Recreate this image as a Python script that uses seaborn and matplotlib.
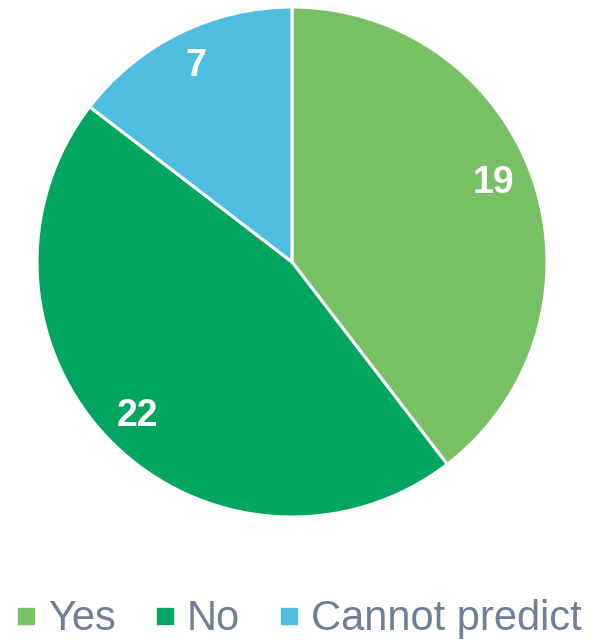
import matplotlib
matplotlib.use("Agg")
import matplotlib.pyplot as plt
from matplotlib.lines import Line2D
import seaborn as sns

categories = ["Yes", "No", "Cannot predict"]
values = [19, 22, 7]
colors = ["#77C063", "#00A65F", "#4FBDE0"]

sns.set_theme(style="white")
plt.rcParams['font.family'] = ['Liberation Sans', 'DejaVu Sans']

fig = plt.figure(figsize=(5.92, 6.40), dpi=100)
ax = fig.add_axes([37/592, 123/640, 510/592, 510/640])
wedges, texts = ax.pie(values, colors=colors, startangle=90, counterclock=False,
                       labels=[str(v) for v in values], labeldistance=0.855,
                       wedgeprops=dict(edgecolor="white", linewidth=2.2),
                       textprops=dict(color="white", fontsize=27, fontweight="bold"))
for t in texts:
    t.set_horizontalalignment("center")
    t.set_verticalalignment("center")
# slight nudge of the first label, as in the reference
x0, y0 = texts[0].get_position()
texts[0].set_position((x0 - 0.02, y0 + 0.035))
ax.set_xlim(-1, 1)
ax.set_ylim(-1, 1)
ax.set_aspect("equal")
ax.axis("off")

handles = [Line2D([0], [0], marker="s", linestyle="none", markersize=11.5,
                  markerfacecolor=c, markeredgecolor=c) for c in colors]
leg = fig.legend(handles, categories, loc="lower center", bbox_to_anchor=(0.505, 0.001),
                 ncol=3, frameon=False, fontsize=30, handlelength=0.45,
                 handletextpad=0.3, columnspacing=0.95, borderaxespad=0.0,
                 borderpad=0.0)
for t in leg.get_texts():
    t.set_color("#6E7F96")

fig.savefig("out.png", dpi=100)
